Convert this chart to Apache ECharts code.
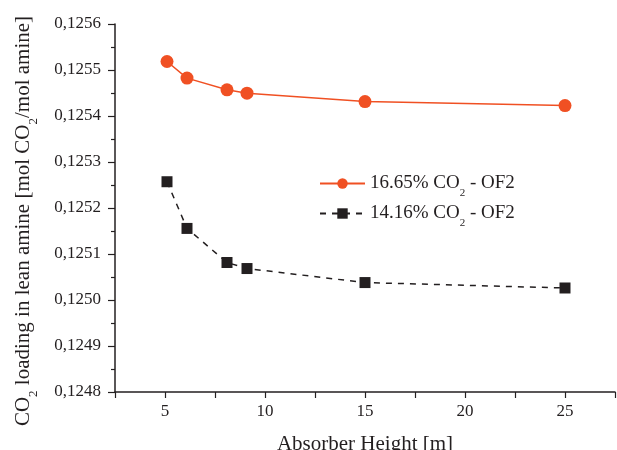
<!DOCTYPE html>
<html><head><meta charset="utf-8">
<script src="https://cdn.jsdelivr.net/npm/echarts@6/dist/echarts.min.js"></script>
<style>html,body{margin:0;padding:0;background:#fff}#c{width:617px;height:450px}</style>
</head><body><div id="c"></div>
<script>
const heights = [5.1, 6.1, 8.1, 9.1, 15, 25];
const seriesA = [0.1255185, 0.1254824, 0.1254569, 0.1254497, 0.1254314, 0.1254227];
const seriesB = [0.1252571, 0.1251556, 0.1250815, 0.1250684, 0.1250379, 0.1250261];
const nameA = '16.65% CO{sub|2} - OF2';
const nameB = '14.16% CO{sub|2} - OF2';
const xTitle = 'Absorber Height [m]';
const yTitle = 'CO{sub|2} loading in lean amine [mol CO{sub|2}/mol amine]';

const font = 'Liberation Serif';
const txt = '#231F20';
const chart = echarts.init(document.getElementById('c'));
const subRich = (fs) => ({
  sub: {fontSize: Math.round(fs*0.6), fontFamily: font, color: txt, verticalAlign: 'bottom', padding: [0,0,-6,0], lineHeight: fs},
});
chart.setOption({
  animation: false,
  backgroundColor: '#fff',
  grid: {left: 115, right: 2, top: 24, bottom: 58, containLabel: false, outerBoundsMode: 'none'},
  legend: {
    left: 314, top: 169, orient: 'vertical', itemGap: 5,
    itemWidth: 45, itemHeight: 13,
    data: [{name: nameA}, {name: nameB}],
    textStyle: {fontFamily: font, fontSize: 19, color: txt, rich: subRich(19)},
    formatter: n => n
  },
  xAxis: {
    type: 'value', min: 2.5, max: 27.5, interval: 2.5,
    name: xTitle, nameLocation: 'middle', nameGap: 42,
    nameTextStyle: {fontFamily: font, fontSize: 21, color: txt},
    axisLine: {show: true, onZero: false, lineStyle: {color: txt, width: 1.5}},
    axisTick: {show: true, inside: false, length: 6, lineStyle: {color: txt, width: 1.2}},
    axisLabel: {fontFamily: font, fontSize: 17, color: txt, margin: 11,
      formatter: v => (Math.abs(v/5 - Math.round(v/5)) < 1e-6 ? String(Math.round(v)) : '')},
    splitLine: {show: false}
  },
  yAxis: {
    type: 'value', min: 0.1248, max: 0.1256, interval: 0.0001,
    name: yTitle, nameLocation: 'middle', nameGap: 81,
    nameTextStyle: {fontFamily: font, fontSize: 21, color: txt, rich: subRich(21), padding: [0, 26, 0, 0]},
    axisLine: {show: true, onZero: false, lineStyle: {color: txt, width: 1.5}},
    axisTick: {show: true, inside: false, length: 7, lineStyle: {color: txt, width: 1.2}},
    minorTick: {show: true, splitNumber: 2, length: 4, lineStyle: {color: txt, width: 1.2}},
    axisLabel: {fontFamily: font, fontSize: 17, color: txt, margin: 14,
      formatter: v => v.toFixed(4).replace('.', ',')},
    splitLine: {show: false}
  },
  series: [
    {name: nameA, type: 'line', data: heights.map((h,i)=>[h, seriesA[i]]),
     symbol: 'circle', symbolSize: 13,
     itemStyle: {color: '#F05023'}, lineStyle: {color: '#F05023', width: 1.5}},
    {name: nameB, type: 'line', data: heights.map((h,i)=>[h, seriesB[i]]),
     symbol: 'rect', symbolSize: 11,
     itemStyle: {color: '#231F20'}, lineStyle: {color: '#231F20', width: 1.5, type: [6,6]}}
  ]
});
</script></body></html>
